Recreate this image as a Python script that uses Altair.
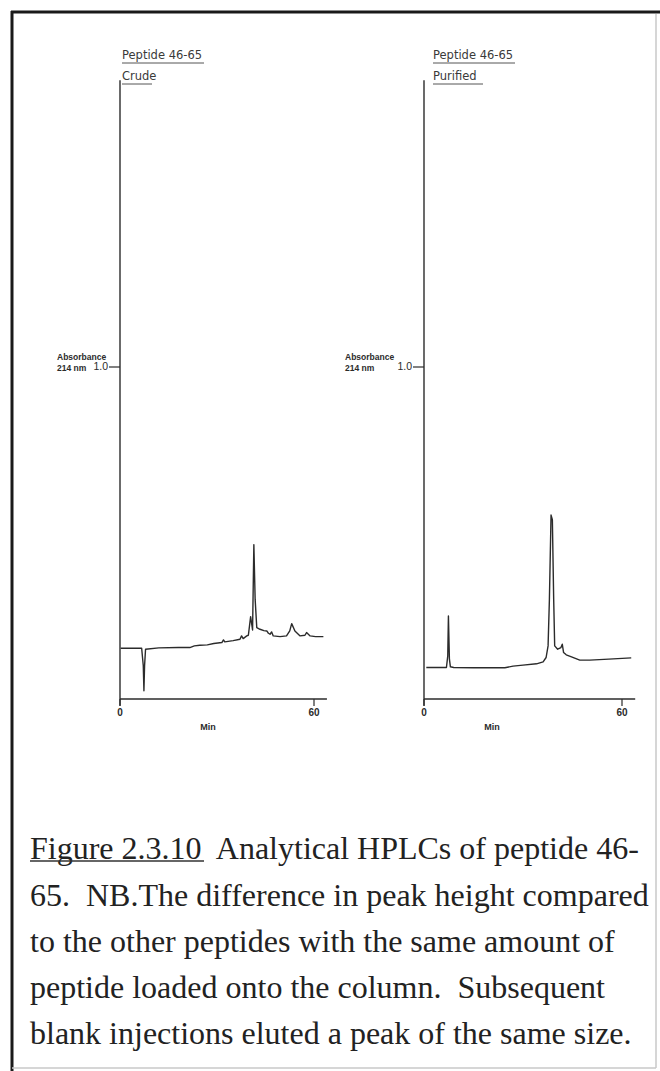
import altair as alt
import pandas as pd

# ---------------- data ----------------
crude_t = [0.2, 6.7, 7.2, 7.4, 7.6, 7.9, 12, 18, 21.6, 23, 24.7, 27, 29, 31.5, 32.0, 32.4,
           35, 37.1, 37.6, 38.1, 39.2, 39.7, 40.4, 41.0, 41.4, 41.8, 42.3, 43.3, 44.5,
           45.4, 45.9, 46.4, 46.9, 47.4, 49.5, 51.5, 52.5, 53.1, 54.1, 55.7, 57.2, 57.7,
           58.8, 60.5, 62.9]
crude_a = [0.153, 0.153, 0.10, 0.025, 0.10, 0.150, 0.154, 0.155, 0.155, 0.160, 0.162, 0.163,
           0.167, 0.170, 0.178, 0.172, 0.176, 0.180, 0.190, 0.182, 0.190, 0.192, 0.248, 0.208,
           0.465, 0.300, 0.215, 0.210, 0.206, 0.205, 0.198, 0.195, 0.202, 0.190, 0.188, 0.190,
           0.205, 0.227, 0.205, 0.190, 0.192, 0.200, 0.190, 0.188, 0.188]

pur_t = [0.7, 6.8, 7.2, 7.4, 7.7, 8.0, 9, 15, 24.5, 27, 30, 34.1, 36.1, 37.0, 37.6, 38.0,
         38.5, 38.9, 39.3, 39.6, 40.5, 41.5, 41.9, 42.3, 43.1, 44.7, 47.2, 50.2, 56, 62.8]
pur_a = [0.095, 0.095, 0.13, 0.250, 0.12, 0.097, 0.095, 0.094, 0.094, 0.099, 0.102, 0.106,
         0.112, 0.125, 0.160, 0.300, 0.554, 0.540, 0.300, 0.160, 0.150, 0.155, 0.165, 0.140,
         0.133, 0.127, 0.117, 0.117, 0.120, 0.124]

x_tick_values = [0, 60]
x_tick_labels = ["0", "60"]
y_tick_values = [1.0]
y_tick_labels = ["1.0"]

caption_lines = [
    "Figure 2.3.10\u00a0 Analytical HPLCs of peptide 46-",
    "65.\u00a0 NB.The difference in peak height compared",
    "to the other peptides with the same amount of",
    "peptide loaded onto the column.\u00a0 Subsequent",
    "blank injections eluted a peak of the same size.",
]

INK = "#2b2b2b"


def text(s, x, y, size=10, weight="normal", font="DejaVu Sans", align="left", color=INK):
    return alt.Chart(pd.DataFrame({"s": [s]})).mark_text(
        align=align, baseline="middle", fontSize=size, fontWeight=weight, font=font, color=color
    ).encode(x=alt.value(x), y=alt.value(y), text="s:N")


def hrule(x1, x2, y, color=INK, w=1.0):
    return alt.Chart(pd.DataFrame({"k": [0]})).mark_rule(color=color, strokeWidth=w).encode(
        x=alt.value(x1), x2=alt.value(x2), y=alt.value(y))


def vrule(x, y1, y2, color=INK, w=1.0):
    return alt.Chart(pd.DataFrame({"k": [0]})).mark_rule(color=color, strokeWidth=w).encode(
        x=alt.value(x), y=alt.value(y1), y2=alt.value(y2))


def panel(t, a, x0, x60, title2, title_x, u1, u2, abs_x, min_x):
    xs = alt.Scale(domain=[0, 60], range=[x0, x60], nice=False, zero=False)
    ys = alt.Scale(domain=[0, 1], range=[699, 367], nice=False, zero=False)
    X = lambda f: alt.X(f, type="quantitative", scale=xs, axis=None)
    Y = lambda f: alt.Y(f, type="quantitative", scale=ys, axis=None)

    trace = alt.Chart(pd.DataFrame({"t": t, "a": a})).mark_line(
        color=INK, strokeWidth=1.4, strokeJoin="round").encode(x=X("t"), y=Y("a"))

    yaxis = alt.Chart(pd.DataFrame({"t": [0], "a": [1.864], "a2": [-0.02]})).mark_rule(
        color=INK, strokeWidth=1.4).encode(x=X("t"), y=Y("a"), y2="a2")
    xaxis = alt.Chart(pd.DataFrame({"t": [0], "t2": [64], "a": [0]})).mark_rule(
        color=INK, strokeWidth=1.4).encode(x=X("t"), x2="t2", y=Y("a"))

    xt = pd.DataFrame({"t": x_tick_values, "label": x_tick_labels})
    xticks = alt.Chart(xt).mark_rule(color=INK, strokeWidth=1.2).encode(
        x=X("t"), y=alt.value(699), y2=alt.value(706))
    xlabels = alt.Chart(xt).mark_text(fontSize=10, fontWeight="bold", font="Liberation Sans",
                                      color=INK, baseline="middle").encode(
        x=X("t"), y=alt.value(713), text="label:N")

    yt = pd.DataFrame({"a": y_tick_values, "label": y_tick_labels})
    yticks = alt.Chart(yt).mark_rule(color=INK, strokeWidth=1.2).encode(
        y=Y("a"), x=alt.value(x0 - 11), x2=alt.value(x0))
    ylabels = alt.Chart(yt).mark_text(fontSize=10.5, font="Liberation Sans", color=INK,
                                      align="right", baseline="middle").encode(
        y=Y("a"), x=alt.value(x0 - 12), text="label:N")

    layers = [
        trace, yaxis, xaxis, xticks, xlabels, yticks, ylabels,
        text("Peptide 46-65", title_x, 56, size=11.5, color="#3a3a3a"),
        text(title2, title_x, 77, size=11.5, color="#3a3a3a"),
        hrule(title_x, title_x + u1, 63, color="#555", w=1),
        hrule(title_x, title_x + u2, 84, color="#555", w=1),
        text("Absorbance", abs_x, 357, size=8.5, weight="bold", font="Liberation Sans"),
        text("214 nm", abs_x, 368, size=8.5, weight="bold", font="Liberation Sans"),
        text("Min", min_x, 727, size=9, weight="bold", font="Liberation Sans", align="center"),
    ]
    return alt.layer(*layers)


left = panel(crude_t, crude_a, 120, 314, "Crude", 122, 82, 30, 57, 208)
right = panel(pur_t, pur_a, 424, 622, "Purified", 433, 82, 50, 345, 492)

frame = [
    hrule(11, 660, 12, color="#1a1a1a", w=3),
    vrule(12, 11, 1071, color="#1a1a1a", w=3),
    vrule(656, 14, 1068, color="#c8c8c8", w=1.5),
    hrule(12, 656, 1068, color="#c8c8c8", w=1.5),
]

caption_y = [849, 896, 942, 988, 1034]
caption = [text(line, 30, y, size=32, font="Liberation Serif", color="#222")
           for line, y in zip(caption_lines, caption_y)]
caption.append(hrule(30, 204, caption_y[0] + 12, color="#333", w=1.5))

chart = alt.layer(*frame, left, right, *caption).resolve_scale(
    x="independent", y="independent"
).properties(
    width=660, height=1071, padding=0,
    autosize=alt.AutoSizeParams(type="none"),
    background="white",
).configure_view(stroke=None)

chart.save("out.html", embed_options={"renderer": "svg", "actions": False})
